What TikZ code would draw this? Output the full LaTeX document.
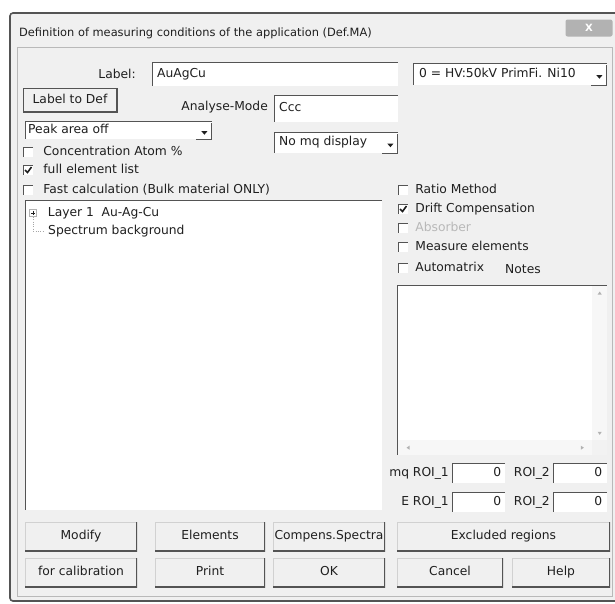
\documentclass[tikz,border=0pt]{standalone}
\usepackage{fontspec}
\setmainfont{DejaVu Sans}
\usepackage{tikz}
\usetikzlibrary{positioning}

\definecolor{winbg}{gray}{0.94}
\definecolor{winedge}{gray}{0.33}
\definecolor{winlight}{gray}{0.82}
\definecolor{wintext}{gray}{0.12}
\definecolor{wingrey}{gray}{0.72}

\begin{document}
\begin{tikzpicture}[
        x=1pt, y=-1pt,
        % define styles
        txt/.style={
            inner sep=0pt,
            font=\fontsize{12.3}{14}\selectfont,
            text height=9pt, text depth=2.5pt,
            text=wintext
        },
        titletxt/.style={
            inner sep=0pt,
            font=\fontsize{11.4}{13}\selectfont,
            text=wintext
        },
        field/.style={
            fill=white, inner sep=0pt, anchor=north west,
            text height=, text depth=,
            path picture={
                \draw[winedge, line width=2pt]
                    (path picture bounding box.south west) --
                    (path picture bounding box.north west) --
                    (path picture bounding box.north east);
            }
        },
        winbtn/.style={
            txt, fill=winbg, minimum height=29,
            path picture={
                \draw[winlight, line width=2pt]
                    (path picture bounding box.south west) --
                    (path picture bounding box.north west) --
                    (path picture bounding box.north east);
                \draw[winedge, line width=3pt]
                    (path picture bounding box.north east) --
                    (path picture bounding box.south east) --
                    (path picture bounding box.south west);
            }
        },
        chkbox/.style={field, minimum size=10, anchor=center},
        tick/.style={line width=1.6pt, wintext},
        scrollbar/.style={fill=gray!6, inner sep=0pt}
    ]
    \useasboundingbox (0,0) rectangle (615,603);
    \fill[white] (0,0) rectangle (615,603);

    % window frame and title bar
    \draw[winedge, line width=1.6pt, fill=winbg, rounded corners=3]
        (10,13) rectangle (618,601);
    \node[titletxt, anchor=west] (title) at (19,33)
        {Definition of measuring conditions of the application (Def.MA)};
    \node[fill=gray!60, rounded corners=2, minimum width=47, minimum height=17,
        inner sep=0pt, text=white, font=\bfseries\fontsize{10}{12}\selectfont]
        (close) at (589,28) {X};
    \draw[gray!55] (17,47) rectangle (612,596);

    % label and application
    \node[txt, anchor=east] (labelcap) at (136,75) {Label:};
    \node[field, minimum width=246, minimum height=24] (labelbox) at (152,62) {};
    \node[txt, right=5pt of labelbox.west] (labeltext) {AuAgCu};
    \node[field, minimum width=194, minimum height=22] (hvcombo) at (413,63) {};
    \node[txt, right=6pt of hvcombo.west] (hvtext) {0 = HV:50kV PrimFi. Ni10};
    \node[winbtn, draw=winedge, minimum width=94, minimum height=24]
        (labeltodef) at (70,100) {Label to Def};

    \node[txt, anchor=east] (modecap) at (268,107) {Analyse-Mode};
    \node[field, minimum width=124, minimum height=27] (modebox) at (274,95) {};
    \node[txt, right=5pt of modebox.west] (modetext) {Ccc};

    \node[field, minimum width=187, minimum height=18] (peakcombo) at (25,121) {};
    \node[txt, right=3pt of peakcombo.west] (peaktext) {Peak area off};
    \node[field, minimum width=124, minimum height=21] (mqcombo) at (274,132) {};
    \node[txt, right=5pt of mqcombo.west] (mqtext) {No mq display};

    % drop-down arrows
    \foreach \cb in {hvcombo, peakcombo, mqcombo} {
        \fill[wintext] ([xshift=-11, yshift=-1]\cb.east) -- ++(6,0) -- ++(-3,3.5) -- cycle;
        \draw[winedge, line width=1pt] ([xshift=-1, yshift=-2]\cb.north east)
            -- ([xshift=-1]\cb.south east) -- ([xshift=-16]\cb.south east);
    }

    % left check boxes
    \foreach \nm/\yy/\txt in {atom/152/{Concentration Atom \%},
            full/170/{full element list},
            fast/190/{Fast calculation (Bulk material ONLY)}} {
        \node[chkbox] (\nm-box) at (28,\yy) {};
        \node[txt, right=10pt of \nm-box] (\nm) {\txt};
    }
    \draw[tick] ([xshift=-3]full-box.center) -- ++(2.5,2.5) -- ++(4,-5.5);

    % tree view
    \node[field, minimum width=357, minimum height=310] (tree) at (25,200) {};
    \node[draw=gray!60, fill=white, minimum size=7, inner sep=0pt] (expander) at (33,213) {};
    \draw[wintext, line width=0.6pt]
        ([xshift=1.5]expander.west) -- ([xshift=-1.5]expander.east)
        ([yshift=-1.5]expander.north) -- ([yshift=1.5]expander.south);
    \node[txt, right=11pt of expander] (layer) {Layer 1\ \ Au-Ag-Cu};
    \node[txt, anchor=west] (spectrum) at (48,231) {Spectrum background};
    \draw[gray!70, dotted] (expander.south) |- ([xshift=-3]spectrum.west);

    % right check boxes
    \foreach \nm/\yy/\col/\txt in {ratio/190/wintext/{Ratio Method},
            drift/209/wintext/{Drift Compensation},
            absorber/228/wingrey/{Absorber},
            measure/247/wintext/{Measure elements},
            automatrix/268/wintext/{Automatrix}} {
        \node[chkbox] (\nm-box) at (403,\yy) {};
        \node[txt, text=\col, right=7pt of \nm-box] (\nm) {\txt};
    }
    \draw[tick] ([xshift=-3]drift-box.center) -- ++(2.5,2.5) -- ++(4,-5.5);

    % notes
    \node[txt, anchor=west] (notescap) at (505,270) {Notes};
    \node[field, minimum width=210, minimum height=170] (notes) at (397,285) {};
    \node[scrollbar, minimum width=15, minimum height=154, anchor=north east]
        (vscroll) at ([yshift=-1]notes.north east) {};
    \node[scrollbar, minimum width=194, minimum height=15, anchor=south west]
        (hscroll) at ([xshift=1]notes.south west) {};
    \node[fill=gray!10, minimum size=15, inner sep=0pt, anchor=south east]
        (corner) at (notes.south east) {};
    \fill[gray!60] ([yshift=-7]vscroll.north) ++(-2,1.5) -- ++(4,0) -- ++(-2,-3) -- cycle;
    \fill[gray!60] ([yshift=7]vscroll.south) ++(-2,-1.5) -- ++(4,0) -- ++(-2,3) -- cycle;
    \fill[gray!60] ([xshift=10]hscroll.west) ++(1.5,-2) -- ++(0,4) -- ++(-3,-2) -- cycle;
    \fill[gray!60] ([xshift=-10]hscroll.east) ++(-1.5,-2) -- ++(0,4) -- ++(3,-2) -- cycle;

    % regions of interest
    \foreach \rw/\yy/\cap in {mq/463/{mq ROI\_1}, e/492/{E ROI\_1}} {
        \node[field, minimum width=53, minimum height=20] (\rw-roia) at (452,\yy) {};
        \node[txt, left=3pt of \rw-roia.west] (\rw-capa) {\cap};
        \node[txt, left=4pt of \rw-roia.east] (\rw-vala) {0};
        \node[field, minimum width=54, minimum height=20] (\rw-roib) at (553,\yy) {};
        \node[txt, left=3pt of \rw-roib.west] (\rw-capb) {ROI\_2};
        \node[txt, left=5pt of \rw-roib.east] (\rw-valb) {0};
    }

    % buttons
    \foreach \nm/\cx/\cy/\w/\txt in {modify/81/536.5/112/Modify,
            elements/210/536.5/110/Elements,
            compens/329/536.5/112/Compens.Spectra,
            excluded/503.5/536.5/213/Excluded regions,
            calib/81/572.5/112/for calibration,
            print/210/572.5/110/Print,
            ok/329/572.5/112/OK,
            cancel/450/572.5/106/Cancel,
            help/561/572.5/98/Help} {
        \node[winbtn, minimum width=\w] (\nm) at (\cx,\cy) {\txt};
    }

\end{tikzpicture}
\end{document}
